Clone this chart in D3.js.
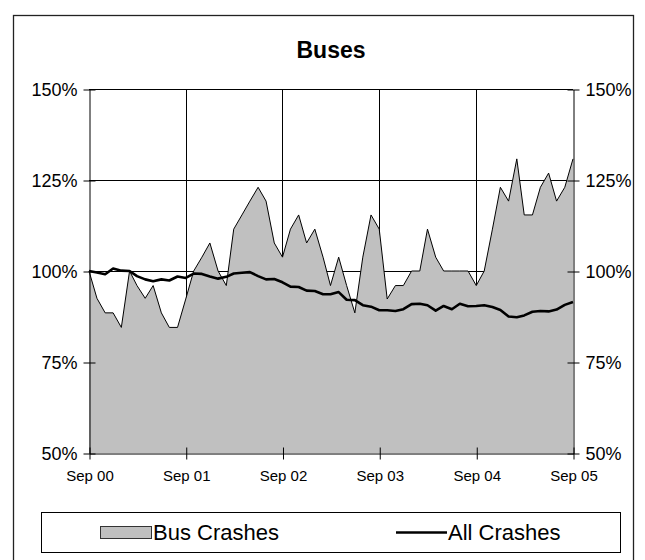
<!DOCTYPE html>
<html>
<head>
<meta charset="utf-8">
<script src="https://cdn.jsdelivr.net/npm/d3@7"></script>
<style>
  body { margin: 0; background: #fff; }
  svg text { font-family: "Liberation Sans", Arial, sans-serif; fill: #000; }
</style>
</head>
<body>
<svg id="chart" width="645" height="560"></svg>
<script>
// monthly index, Sep 2000 .. Sep 2005 (Sep 2000 = 100%)
var startMonth = new Date(2000, 8, 1);
var busCrashes = [100, 92.5, 88.5, 88.5, 84.5, 100, 96, 92.5, 96, 88.5,
    84.5, 84.5, 92.3, 100, 103.8, 107.7, 100, 96, 111.5, 115.4,
    119.2, 123, 119.2, 107.7, 103.8, 111.5, 115.4, 107.7, 111.5, 103.8,
    96, 103.8, 96, 88.5, 103.8, 115.4, 111.5, 92.3, 96, 96,
    100, 100, 111.5, 103.8, 100, 100, 100, 100, 96, 100,
    111.5, 123, 119.2, 130.8, 115.4, 115.4, 123, 126.9, 119.2, 123,
    130.8];
var allCrashes = [100, 99.6, 99.1, 100.7, 100.1, 100, 98.6, 97.7, 97.2, 97.7,
    97.4, 98.5, 98.1, 99.3, 99.2, 98.5, 97.9, 98.4, 99.3, 99.5,
    99.7, 98.6, 97.7, 97.8, 96.9, 95.7, 95.6, 94.6, 94.5, 93.6,
    93.6, 94.2, 92.1, 92.0, 90.6, 90.2, 89.2, 89.2, 89.0, 89.5,
    90.9, 91.0, 90.6, 89.1, 90.4, 89.5, 91.0, 90.3, 90.4, 90.6,
    90.1, 89.3, 87.5, 87.3, 87.8, 88.8, 89.0, 88.9, 89.4, 90.7,
    91.5];
var yTicks = [50, 75, 100, 125, 150];
var xTickLabels = ['Sep 00', 'Sep 01', 'Sep 02', 'Sep 03', 'Sep 04', 'Sep 05'];
var seriesNames = ['Bus Crashes', 'All Crashes'];

var svg = d3.select('#chart');

var plotLeft = 89, plotRight = 573, plotTop = 89, plotBottom = 453;

function monthDate(i) {
    return d3.timeMonth.offset(startMonth, i);
}

var x = d3.scaleTime()
    .domain([startMonth, monthDate(60)])
    .range([plotLeft, plotRight]);
var y = d3.scaleLinear()
    .domain([50, 150])
    .range([plotBottom, plotTop]);

// outer chart frame
svg.append('rect')
    .attr('x', 13.5).attr('y', 15.5)
    .attr('width', 620).attr('height', 560)
    .attr('fill', 'none')
    .attr('stroke', '#222')
    .attr('stroke-width', 1.3);

svg.append('text')
    .attr('x', 331).attr('y', 58)
    .attr('text-anchor', 'middle')
    .style('font-size', '23px')
    .style('font-weight', 'bold')
    .text('Buses');

var yearDates = xTickLabels.map(function(d, i) { return monthDate(i * 12); });

// grid lines (behind the area)
var grid = svg.append('g').attr('stroke', '#000').attr('stroke-width', 1);
grid.selectAll('.hgrid')
    .data(yTicks.filter(function(d) { return d > 50; }))
    .enter().append('line')
    .attr('x1', plotLeft).attr('x2', plotRight)
    .attr('y1', function(d) { return Math.round(y(d)) + 0.5; })
    .attr('y2', function(d) { return Math.round(y(d)) + 0.5; });
grid.selectAll('.vgrid')
    .data(yearDates.slice(1, 5))
    .enter().append('line')
    .attr('x1', function(d) { return Math.round(x(d)) + 0.5; })
    .attr('x2', function(d) { return Math.round(x(d)) + 0.5; })
    .attr('y1', plotTop).attr('y2', plotBottom);

var area = d3.area()
    .x(function(d, i) { return x(monthDate(i)); })
    .y0(y(50))
    .y1(function(d) { return y(d); });
var line = d3.line()
    .x(function(d, i) { return x(monthDate(i)); })
    .y(function(d) { return y(d); });

svg.append('path')
    .datum(busCrashes)
    .attr('d', area)
    .attr('fill', '#c0c0c0');
svg.append('path')
    .datum(busCrashes)
    .attr('d', line)
    .attr('fill', 'none')
    .attr('stroke', '#000')
    .attr('stroke-width', 1);
svg.append('path')
    .datum(allCrashes)
    .attr('d', line)
    .attr('fill', 'none')
    .attr('stroke', '#000')
    .attr('stroke-width', 2.6)
    .attr('stroke-linejoin', 'round');

// axes
var fmt = function(d) { return d + '%'; };
var yAxisL = d3.axisLeft(y).tickValues(yTicks).tickFormat(fmt).tickSizeInner(6).tickSizeOuter(0).tickPadding(6);
var yAxisR = d3.axisRight(y).tickValues(yTicks).tickFormat(fmt).tickSizeInner(6).tickSizeOuter(0).tickPadding(6);
var xAxis = d3.axisBottom(x).tickValues(yearDates)
    .tickFormat(function(d, i) { return xTickLabels[i]; })
    .tickSizeInner(6).tickSizeOuter(0).tickPadding(11);

function styleAxis(g) {
    g.select('.domain').attr('stroke', '#000');
    g.selectAll('.tick line').attr('stroke', '#000');
    g.selectAll('text').attr('fill', '#000').style('font-family', '"Liberation Sans", Arial, sans-serif');
}

svg.append('g')
    .attr('transform', 'translate(' + (plotLeft + 0.5) + ',0.5)')
    .call(yAxisL)
    .call(styleAxis)
    .call(function(g) { g.selectAll('text').style('font-size', '18px'); })
    .call(function(g) { g.selectAll('.tick line').attr('x2', 6).attr('x1', -6); });
svg.append('g')
    .attr('transform', 'translate(' + (plotRight + 0.5) + ',0.5)')
    .call(yAxisR)
    .call(styleAxis)
    .call(function(g) { g.selectAll('text').style('font-size', '18px'); })
    .call(function(g) { g.selectAll('.tick line').attr('x1', -6).attr('x2', 6); });
svg.append('g')
    .attr('transform', 'translate(0.5,' + (plotBottom + 0.5) + ')')
    .call(xAxis)
    .call(styleAxis)
    .call(function(g) { g.selectAll('text').style('font-size', '15px'); })
    .call(function(g) { g.selectAll('.tick line').attr('y1', -6).attr('y2', 6); });

// legend
var legend = svg.append('g');
legend.append('rect')
    .attr('x', 41.5).attr('y', 512.5)
    .attr('width', 579).attr('height', 40)
    .attr('fill', '#fff')
    .attr('stroke', '#000');
legend.append('rect')
    .attr('x', 100.5).attr('y', 526.5)
    .attr('width', 51).attr('height', 12)
    .attr('fill', '#c0c0c0')
    .attr('stroke', '#333');
legend.append('text')
    .attr('x', 153).attr('y', 540)
    .style('font-size', '22px')
    .text(seriesNames[0]);
legend.append('line')
    .attr('x1', 396).attr('x2', 447)
    .attr('y1', 532.5).attr('y2', 532.5)
    .attr('stroke', '#000')
    .attr('stroke-width', 2.6);
legend.append('text')
    .attr('x', 448).attr('y', 540)
    .style('font-size', '22px')
    .text(seriesNames[1]);
</script>
</body>
</html>
